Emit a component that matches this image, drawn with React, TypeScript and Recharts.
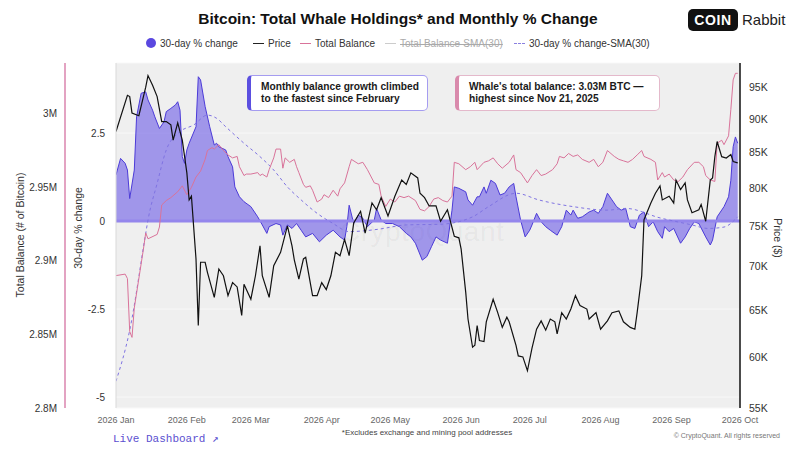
import React from 'react';
import { ComposedChart, Area, Line, XAxis, YAxis, CartesianGrid, ReferenceLine } from 'recharts';

const monthTicks = [0, 31, 59, 90, 120, 151, 181, 212, 243, 273];
const monthLabels = ['2026 Jan', '2026 Feb', '2026 Mar', '2026 Apr', '2026 May', '2026 Jun', '2026 Jul', '2026 Aug', '2026 Sep', '2026 Oct'];

const balanceTicks = [2.8, 2.85, 2.9, 2.95, 3];
const changeTicks = [-5, -2.5, 0, 2.5];
const priceTicks = [55, 60, 65, 70, 75, 80, 85, 90, 95];

// day offsets from 2026-01-01
const priceDays = [
  0, 5, 6, 7, 10, 13, 14, 16, 18, 20, 22, 24, 25, 27, 29, 31, 32, 33, 35, 36,
  37, 39, 40, 43, 45, 47, 49, 51, 53, 55, 56, 59, 61, 63, 64, 67, 69, 72, 75, 77,
  78, 80, 82, 83, 86, 88, 90, 92, 94, 96, 98, 100, 102, 104, 107, 109, 112, 114, 116, 119,
  122, 125, 127, 129, 132, 133, 135, 137, 140, 142, 145, 148, 150, 151, 153, 154, 156, 157, 158, 159,
  161, 162, 165, 167, 169, 171, 172, 175, 176, 178, 180, 182, 184, 186, 188, 190, 192, 193, 195, 197,
  199, 201, 203, 206, 207, 210, 212, 215, 217, 220, 222, 225, 227, 228, 230, 231, 234, 236, 238, 239,
  242, 244, 245, 247, 249, 250, 252, 255, 256, 258, 260, 261, 262, 263, 265, 267, 269, 270, 272,
];
const priceK = [
  88.1, 93.7, 93.5, 90.9, 90.5, 95.0, 96.9, 95.3, 93.5, 89.6, 89.6, 89.1, 86.8, 89.4, 86.8, 82.1, 78.4, 78.9, 70.9, 63.3,
  70.5, 70.5, 69.3, 66.4, 69.7, 68.9, 66.6, 68.1, 67.6, 64.4, 67.9, 66.2, 68.9, 72.5, 68.9, 66.4, 70.1, 71.7, 75.0, 72.5,
  70.8, 68.5, 70.9, 71.1, 66.6, 66.6, 68.1, 67.3, 68.9, 71.7, 71.3, 73.3, 71.3, 75.4, 76.9, 74.1, 78.0, 77.1, 78.7, 76.3,
  78.9, 81.1, 80.5, 82.1, 81.4, 79.3, 78.7, 77.6, 77.6, 75.6, 77.1, 73.7, 73.5, 72.1, 67.0, 64.0, 61.0, 61.2, 63.3, 61.7,
  61.6, 63.7, 66.2, 64.7, 63.1, 64.2, 63.7, 61.2, 60.1, 60.0, 58.6, 60.9, 62.9, 63.8, 62.8, 64.0, 63.7, 62.4, 64.7, 64.0,
  65.1, 66.6, 65.5, 65.1, 64.0, 64.7, 62.9, 63.8, 64.7, 64.9, 63.7, 63.1, 62.9, 64.7, 68.9, 75.8, 78.0, 79.3, 80.3, 78.4,
  78.9, 78.0, 81.1, 79.8, 80.7, 78.4, 76.7, 77.1, 77.8, 75.6, 81.1, 81.4, 84.4, 86.6, 84.4, 84.2, 84.7, 83.7, 83.5,
];

const changeDays = [
  0, 2, 4, 5, 6, 8, 9, 11, 13, 14, 16, 17, 19, 21, 22, 24, 26, 27, 28, 29,
  30, 31, 32, 35, 36, 37, 39, 41, 43, 44, 45, 48, 49, 51, 52, 54, 56, 59, 62, 64,
  66, 67, 70, 72, 73, 75, 77, 79, 81, 83, 86, 89, 92, 95, 98, 100, 101, 102, 104, 106,
  108, 110, 113, 114, 116, 118, 121, 124, 127, 129, 131, 134, 136, 138, 140, 142, 145, 147, 148, 150,
  153, 154, 156, 158, 159, 161, 162, 164, 166, 168, 170, 172, 174, 175, 177, 179, 181, 182, 184, 186,
  188, 190, 193, 195, 197, 199, 200, 202, 204, 207, 209, 211, 213, 215, 217, 219, 221, 223, 225, 227,
  229, 231, 233, 235, 237, 239, 240, 242, 244, 247, 249, 251, 253, 255, 258, 260, 261, 263, 266, 268,
  269, 270, 271, 272,
];
const changePct = [
  1.31, 1.78, 1.64, 1.45, 0.64, 1.45, 2.96, 3.63, 3.67, 3.44, 3.15, 2.96, 2.63, 2.82, 3.11, 3.2, 3.3, 3.39, 3.15, 1.83,
  1.64, 2.02, 2.21, 2.68, 4.1, 4.01, 3.25, 2.68, 2.16, 2.21, 2.11, 2.02, 1.83, 1.54, 0.97, 0.69, 0.55, 0.41, 0.12, -0.11,
  -0.35, -0.16, -0.07, -0.11, -0.4, -0.11, -0.21, -0.07, -0.26, -0.45, -0.35, -0.59, -0.4, -0.26, -0.45, -0.54, -0.16, 0.45, -0.07, 0.17,
  0.08, -0.16, 0.03, 0.36, 0.03, -0.07, -0.07, -0.16, -0.35, -0.45, -0.63, -1.11, -1.01, -0.73, -0.45, -0.54, -0.63, 0.31, 0.97, 0.93,
  0.83, 0.6, 0.45, 0.69, 0.69, 0.97, 0.79, 1.16, 1.07, 0.74, 0.79, 0.97, 1.07, 0.69, 0.03, -0.45, -0.26, -0.11, 0.22, -0.02,
  -0.16, -0.26, -0.4, -0.16, 0.31, 0.17, 0.31, 0.08, 0.12, 0.26, 0.31, 0.22, 0.41, 0.79, 0.6, 0.41, 0.31, 0.36, -0.16, -0.21,
  0.17, 0.26, -0.16, -0.02, -0.3, -0.49, -0.16, -0.3, -0.21, -0.63, -0.45, -0.21, -0.02, -0.07, -0.45, -0.68, -0.54, 0.12, 0.41, 0.69,
  1.16, 2.11, 2.39, 2.21,
];

const balanceDays = [
  0, 4, 5, 6, 7, 8, 12, 13, 14, 18, 19, 20, 22, 24, 27, 29, 31, 33, 35, 37,
  39, 40, 42, 43, 45, 47, 49, 51, 53, 54, 56, 57, 59, 62, 63, 64, 66, 67, 69, 70,
  72, 73, 74, 76, 78, 79, 80, 82, 83, 85, 86, 88, 90, 91, 93, 95, 97, 98, 100, 102,
  103, 106, 108, 110, 113, 115, 116, 118, 120, 122, 124, 126, 128, 131, 133, 135, 137, 139, 141, 143,
  145, 147, 148, 150, 153, 155, 157, 158, 161, 163, 165, 167, 169, 172, 174, 175, 177, 180, 182, 184,
  186, 188, 191, 193, 194, 196, 198, 200, 202, 204, 207, 209, 211, 213, 215, 218, 220, 222, 224, 226,
  228, 230, 231, 234, 236, 237, 239, 240, 242, 244, 246, 248, 250, 253, 255, 257, 258, 260, 262, 263,
  265, 266, 268, 269, 270, 271, 272,
];
const balanceM = [
  2.89, 2.891, 2.888, 2.852, 2.848, 2.868, 2.908, 2.919, 2.915, 2.918, 2.923, 2.938, 2.941, 2.943, 2.947, 2.951, 2.945, 2.95, 2.957, 2.961,
  2.969, 2.975, 2.977, 2.976, 2.979, 2.975, 2.972, 2.97, 2.971, 2.964, 2.958, 2.959, 2.959, 2.96, 2.958, 2.959, 2.957, 2.962, 2.97, 2.976,
  2.976, 2.963, 2.97, 2.967, 2.969, 2.964, 2.96, 2.952, 2.95, 2.951, 2.948, 2.94, 2.942, 2.945, 2.943, 2.948, 2.944, 2.949, 2.953, 2.964,
  2.969, 2.966, 2.967, 2.962, 2.953, 2.952, 2.944, 2.937, 2.942, 2.94, 2.944, 2.943, 2.944, 2.941, 2.935, 2.934, 2.937, 2.942, 2.943, 2.941,
  2.94, 2.944, 2.967, 2.966, 2.962, 2.964, 2.967, 2.962, 2.967, 2.968, 2.97, 2.966, 2.963, 2.967, 2.972, 2.962, 2.96, 2.953, 2.958, 2.962,
  2.958, 2.959, 2.962, 2.966, 2.971, 2.97, 2.973, 2.971, 2.972, 2.969, 2.967, 2.969, 2.964, 2.967, 2.975, 2.971, 2.969, 2.968, 2.967, 2.969,
  2.972, 2.975, 2.971, 2.969, 2.967, 2.955, 2.96, 2.957, 2.959, 2.955, 2.954, 2.957, 2.962, 2.967, 2.967, 2.964, 2.958, 2.955, 2.954, 2.98,
  2.982, 2.979, 2.985, 3.003, 3.023, 3.0275, 3.0275,
];

const smaDays = [0, 6, 13, 14, 18, 22, 28, 34, 40, 44, 48, 56, 63, 69, 75, 81, 88, 95, 102, 108, 115, 127, 142, 156, 163, 175, 185, 200, 215, 223, 238, 252, 259, 266, 272];
const changeSma = [-4.55, -3.1, -0.35, 0.03, 1.07, 2.02, 2.54, 2.73, 3.01, 2.92, 2.68, 2.21, 1.83, 1.45, 0.97, 0.6, 0.22, -0.07, -0.3, -0.28, -0.23, -0.11, -0.09, 0.12, 0.41, 0.79, 0.6, 0.41, 0.31, 0.36, 0.09, -0.11, -0.21, -0.17, 0.12];

const rows = (days: number[], vals: number[]) => days.map((d, i) => ({ d, v: vals[i] }));

const priceData = rows(priceDays, priceK);
const changeData = rows(changeDays, changePct);
const balanceData = rows(balanceDays, balanceM);
const smaData = rows(smaDays, changeSma);

// left axes are stacked by id: "a" hugs the plot, "b" sits outside it
const CHG = 'a-change';
const BAL = 'b-balance';
const PX = 'price';

const PURPLE = '#4c3bd8';
const PINK = '#d9739a';

const legendItem = (left: number, mark: React.ReactNode, text: string, style: React.CSSProperties = {}) => (
  <div style={{ position: 'absolute', left, top: 36, height: 14, display: 'flex', alignItems: 'center', fontSize: 10, color: '#333', whiteSpace: 'nowrap', ...style }}>
    {mark}
    <span style={{ marginLeft: 4 }}>{text}</span>
  </div>
);

const lineMark = (color: string, dashed = false) => (
  <span style={{ display: 'inline-block', width: 11, height: 0, borderTop: `${dashed ? 1 : 1.5}px ${dashed ? 'dashed' : 'solid'} ${color}` }} />
);

const App: React.FC = () => {
  return (
    <div style={{ position: 'relative', width: 800, height: 450, background: '#fff', fontFamily: '"Liberation Sans", Arial, sans-serif', overflow: 'hidden' }}>
      <style>{'body{margin:0}'}</style>

      <div style={{ position: 'absolute', left: 0, width: 796, top: 10, textAlign: 'center', fontSize: 15.5, fontWeight: 700, color: '#111' }}>
        Bitcoin: Total Whale Holdings* and Monthly % Change
      </div>

      <div style={{ position: 'absolute', left: 688, top: 9, width: 50, height: 22, background: '#111', borderRadius: 5, color: '#fff', fontWeight: 700, fontSize: 14, letterSpacing: 0.6, display: 'flex', alignItems: 'center', justifyContent: 'center' }}>
        COIN
      </div>
      <div style={{ position: 'absolute', left: 742, top: 11, fontSize: 15, color: '#222' }}>Rabbit</div>

      {legendItem(146, <span style={{ display: 'inline-block', width: 10, height: 10, borderRadius: 5, background: '#5a48e0' }} />, '30-day % change')}
      {legendItem(253, lineMark('#222'), 'Price')}
      {legendItem(300, lineMark(PINK), 'Total Balance')}
      {legendItem(385, lineMark('#ccc'), 'Total Balance-SMA(30)', { color: '#aaa', textDecoration: 'line-through' })}
      {legendItem(514, lineMark('#8a80e0', true), '30-day % change-SMA(30)')}

      <div style={{ position: 'absolute', left: 116, top: 63, width: 624, height: 345, background: '#efefef' }} />
      <div style={{ position: 'absolute', left: 340, top: 216, fontSize: 28, color: 'rgba(0,0,0,0.05)', letterSpacing: 0.5 }}>CryptoQuant</div>

      <div style={{ position: 'absolute', top: 0, left: 0 }}>
        <ComposedChart width={800} height={450} margin={{ top: 63, right: 0, bottom: 22, left: 0 }}>
          <CartesianGrid yAxisId={CHG} vertical={false} stroke="#f8f8f8" fill="none" />
          <XAxis
            type="number"
            dataKey="d"
            domain={[0, 273]}
            ticks={monthTicks}
            tickFormatter={(v: number) => monthLabels[monthTicks.indexOf(v)]}
            allowDataOverflow
            axisLine={false}
            tickLine={false}
            tickSize={0}
            tickMargin={9}
            height={20}
            tick={{ fill: '#666', fontSize: 9 }}
            interval={0}
          />
          <YAxis
            yAxisId={CHG}
            orientation="left"
            width={51}
            domain={[-5.31, 4.49]}
            ticks={changeTicks}
            allowDataOverflow
            axisLine={{ stroke: '#d9d9d9' }}
            tickLine={false}
            tickSize={0}
            tickMargin={11}
            tick={{ fill: '#333', fontSize: 10 }}
            interval={0}
          />
          <YAxis
            yAxisId={BAL}
            orientation="left"
            width={65}
            domain={[2.8, 3.0345]}
            ticks={balanceTicks}
            tickFormatter={(v: number) => `${v}M`}
            allowDataOverflow
            axisLine={{ stroke: '#e3a3c2', strokeWidth: 2 }}
            tickLine={false}
            tickSize={0}
            tickMargin={8}
            tick={{ fill: '#333', fontSize: 10 }}
            interval={0}
          />
          <YAxis
            yAxisId={PX}
            orientation="right"
            width={60}
            scale="log"
            domain={[55, 99]}
            ticks={priceTicks}
            tickFormatter={(v: number) => `${v}K`}
            allowDataOverflow
            axisLine={{ stroke: '#111', strokeWidth: 1.5 }}
            tickLine={false}
            tickSize={0}
            tickMargin={9}
            tick={{ fill: '#333', fontSize: 10.5 }}
            interval={0}
          />
          <ReferenceLine yAxisId={CHG} y={0} stroke="#9486ec" strokeWidth={3} />
          <Area
            yAxisId={CHG}
            data={changeData}
            dataKey="v"
            type="linear"
            baseValue={0}
            stroke={PURPLE}
            strokeWidth={1}
            fill="#6a5ae6"
            fillOpacity={0.6}
            isAnimationActive={false}
            dot={false}
            activeDot={false}
          />
          <Line
            yAxisId={CHG}
            data={smaData}
            dataKey="v"
            type="monotone"
            stroke="#7f73e2"
            strokeWidth={1}
            strokeDasharray="3 3"
            dot={false}
            isAnimationActive={false}
          />
          <Line
            yAxisId={BAL}
            data={balanceData}
            dataKey="v"
            type="linear"
            stroke={PINK}
            strokeWidth={1}
            dot={false}
            isAnimationActive={false}
          />
          <Line
            yAxisId={PX}
            data={priceData}
            dataKey="v"
            type="linear"
            stroke="#111"
            strokeWidth={1.2}
            dot={false}
            isAnimationActive={false}
          />
        </ComposedChart>
      </div>

      <div style={{ position: 'absolute', left: 20, top: 235, transform: 'translate(-50%, -50%) rotate(-90deg)', fontSize: 10.5, color: '#333', whiteSpace: 'nowrap' }}>
        Total Balance (# of Bitcoin)
      </div>
      <div style={{ position: 'absolute', left: 78, top: 228, transform: 'translate(-50%, -50%) rotate(-90deg)', fontSize: 10.5, color: '#333', whiteSpace: 'nowrap' }}>
        30-day % change
      </div>
      <div style={{ position: 'absolute', left: 778, top: 238, transform: 'translate(-50%, -50%) rotate(90deg)', fontSize: 10.5, color: '#333', whiteSpace: 'nowrap' }}>
        Price ($)
      </div>

      <div style={{ position: 'absolute', left: 247, top: 75, height: 29, background: '#fff', border: '1px solid #a59cf0', borderLeft: '4px solid #5b4fe0', borderRadius: 5, padding: '5px 0 0 10px', fontSize: 10.2, lineHeight: '12px', fontWeight: 700, color: '#1a1a1a', width: 166 }}>
        Monthly balance growth climbed<br />to the fastest since February
      </div>
      <div style={{ position: 'absolute', left: 455, top: 75, height: 29, background: '#fff', border: '1px solid #e4b9cb', borderLeft: '4px solid #d98aac', borderRadius: 5, padding: '5px 0 0 10px', fontSize: 10.2, lineHeight: '12px', fontWeight: 700, color: '#1a1a1a', width: 190 }}>
        Whale's total balance: 3.03M BTC —<br />highest since Nov 21, 2025
      </div>

      <div style={{ position: 'absolute', left: 113, top: 432, fontFamily: '"Liberation Mono", "DejaVu Sans Mono", monospace', fontSize: 11, color: '#5b4fd0' }}>
        Live Dashboard ↗
      </div>
      <div style={{ position: 'absolute', left: 227, width: 400, top: 428, textAlign: 'center', fontSize: 8, color: '#444' }}>
        *Excludes exchange and mining pool addresses
      </div>
      <div style={{ position: 'absolute', right: 20, top: 432, fontSize: 7, color: '#777' }}>
        © CryptoQuant. All rights reserved
      </div>
    </div>
  );
};

export default App;
